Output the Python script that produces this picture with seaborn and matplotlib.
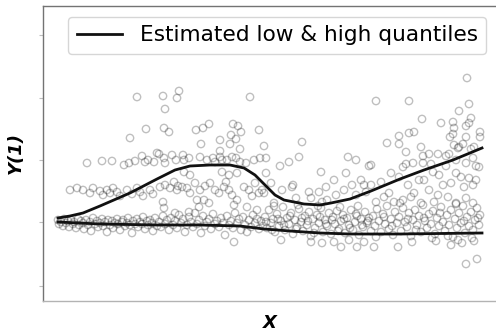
import matplotlib
matplotlib.use("Agg")
import matplotlib.pyplot as plt
import numpy as np
import pandas as pd
import seaborn as sns

# ---- estimated quantile curves ----
curve_x = [1.5, 5.7, 11.4, 15.7, 19.7, 22.1, 24.7, 27.7, 30.7, 35.7, 39.7, 43.9]
low_q = [0.0, -0.2, -0.3, -0.3, -0.4, -0.7, -0.9, -1.1, -1.2, -1.2, -1.15, -1.1]

high_x = [1.5, 2.7, 4.0, 5.7, 8.7, 11.4, 13.2, 14.7, 16.7, 18.7, 20.1, 21.2,
          22.1, 23.2, 24.1, 26.1, 27.7, 28.8, 30.7, 32.8, 35.7, 38.1, 41.0, 43.9]
high_q = [0.4, 0.6, 0.9, 1.6, 2.9, 4.3, 5.2, 5.6, 5.7, 5.7, 5.4, 4.7,
          3.8, 2.7, 2.2, 1.8, 1.7, 1.9, 2.3, 3.1, 4.3, 5.2, 6.2, 7.4]

# ---- observations ----
# sparse upper points
upper_x = [9.4, 12.0, 13.6, 13.4, 12.2, 20.7, 10.3, 12.1, 12.6, 8.7, 15.3, 16.0, 16.6,
           15.8, 17.7, 19.0, 19.5, 18.8, 19.3, 18.7, 19.8, 19.7, 17.7, 21.6, 22.1,
           25.9, 25.6, 24.6, 23.7, 22.3, 30.5, 31.3, 32.6, 33.3, 36.6, 42.4, 42.6,
           41.6, 37.9, 39.8, 41.0, 41.1, 42.8, 42.3, 42.6, 43.7, 43.7, 42.3, 41.0,
           40.7, 41.6, 42.0, 43.1, 35.6, 35.6, 36.6, 37.1, 34.4, 36.3, 37.8, 38.6,
           38.0, 39.5, 40.3, 40.6, 36.3, 37.0, 36.0, 38.0, 38.8, 40.3, 41.3, 43.0,
           43.3, 42.3, 41.5, 42.8, 41.1, 32.8]
upper_y = [12.5, 12.6, 13.1, 12.4, 11.3, 12.5, 9.3, 9.4, 9.0, 8.4, 9.2, 9.4, 9.8,
           7.8, 8.2, 9.8, 9.6, 8.7, 8.3, 7.8, 9.0, 7.3, 7.1, 9.2, 7.6,
           8.0, 6.5, 6.0, 5.6, 6.4, 6.5, 6.2, 5.6, 12.1, 12.1, 14.4, 11.8,
           11.1, 10.3, 9.9, 10.0, 9.4, 10.4, 9.6, 9.9, 9.0, 8.5, 8.5, 8.8,
           8.5, 7.5, 7.8, 7.5, 8.6, 7.8, 8.9, 9.0, 7.9, 7.0, 7.5, 6.8,
           6.6, 6.8, 6.6, 6.8, 5.8, 5.9, 5.5, 5.9, 5.8, 5.6, 6.2, 6.4,
           5.6, 5.9, 7.4, 7.3, 7.7, 5.7]

# group around the upper plateau
plateau_x = [4.4, 5.9, 6.9, 8.1, 9.2, 9.9, 10.2, 11.1, 11.4, 11.6, 12.1, 12.9, 14.0,
             14.1, 14.6, 15.7, 17.0, 17.2, 17.7, 17.9, 18.4, 18.9, 19.7, 21.1, 21.7,
             12.2, 10.5, 13.3, 16.4, 19.3, 20.3, 17.9, 18.6, 19.4, 14.1, 14.7, 8.6]
plateau_y = [5.9, 6.1, 6.1, 5.7, 6.1, 6.6, 6.0, 6.0, 6.9, 6.8, 6.4, 6.7, 6.7,
             6.2, 6.4, 6.5, 6.4, 6.0, 6.5, 6.2, 6.2, 6.5, 6.0, 6.2, 6.4,
             5.9, 6.2, 6.2, 6.2, 6.4, 5.9, 5.0, 4.7, 4.9, 5.0, 4.7, 5.9]

# middle band
mid_x = [2.7, 3.4, 4.0, 4.7, 5.0, 5.7, 6.0, 6.4, 6.7, 7.0, 7.4, 7.7, 8.4, 8.9, 9.4,
         9.7, 10.0, 10.7, 11.0,
         11.7, 12.2, 13.1, 13.4, 13.9, 14.4, 14.7, 15.2, 15.4, 16.1, 16.6, 16.7,
         17.2, 17.6, 18.1, 18.6, 18.9, 19.4, 20.1, 20.6, 21.2, 21.6, 21.9, 12.7,
         13.5, 15.7, 16.2, 18.3, 20.9,
         12.1, 13.2, 14.6, 15.6, 19.1, 20.4, 21.4, 12.0,
         27.8, 29.1, 30.9, 31.8, 32.1, 22.8, 23.9, 24.9, 26.6, 27.6, 28.3, 29.3,
         30.1, 31.3, 32.3, 22.1, 23.1, 25.3, 26.8, 27.9, 28.4, 22.3, 30.3, 25.0,
         32.8, 33.8, 34.8, 35.6, 36.5, 37.1, 38.1, 38.6, 39.6, 40.0, 40.8, 41.3,
         41.8, 42.1, 42.6, 43.0, 39.5, 40.5, 41.3, 42.3, 43.0, 39.1, 37.8, 36.8,
         36.0, 35.1, 34.1, 33.3, 39.0, 43.6, 43.3, 37.6, 34.6]
mid_y = [3.2, 3.4, 3.2, 2.9, 3.4, 3.1, 2.7, 3.2, 2.9, 3.4, 3.0, 2.6, 3.2, 2.8, 3.4,
         3.0, 2.6, 3.2, 2.8,
         3.5, 3.7, 4.0, 3.2, 3.5, 3.4, 2.9, 3.9, 2.2, 2.2, 1.9, 3.9,
         3.2, 2.9, 3.5, 3.2, 2.7, 2.2, 3.5, 3.2, 3.9, 2.9, 3.2, 3.4,
         3.6, 3.2, 3.6, 4.0, 2.6,
         1.4, 0.9, 1.0, 1.5, 1.7, 1.5, 1.2, 2.0,
         5.0, 4.2, 3.7, 4.2, 3.7, 3.9, 3.2, 3.5, 3.0, 3.0, 3.5, 2.7,
         3.2, 2.7, 3.0, 2.9, 1.9, 2.4, 2.4, 2.0, 2.2, 4.9, 4.9, 3.7,
         3.7, 4.0, 4.9, 4.5, 3.7, 2.9, 4.2, 3.2, 4.7, 3.7, 3.9, 4.9,
         4.5, 3.5, 4.4, 3.7, 2.7, 2.5, 1.9, 2.4, 1.9, 2.0, 1.9, 2.5,
         2.2, 2.0, 2.5, 2.0, 5.0, 5.5, 4.2, 4.2, 2.9]

# dense lower band
low_x = [1.5, 1.6, 1.8, 2.0, 2.1, 2.3, 2.5, 2.6, 2.8, 3.0, 3.1, 3.3, 3.5, 3.6, 3.8,
         4.0, 4.1, 4.3, 4.5, 4.7, 4.8, 5.0, 5.2, 5.4, 5.5, 5.7, 5.9, 6.0, 6.2, 6.4,
         6.5, 6.7, 6.9, 7.0, 7.2, 7.4, 7.5, 7.7, 7.9, 8.0, 8.2, 8.4, 8.5, 8.7, 8.9,
         9.0, 9.2, 9.4, 9.5, 9.7, 9.9, 10.0, 10.2, 10.4, 10.5, 10.7, 10.9, 11.0,
         11.2, 11.4,
         11.6, 11.8, 12.0, 12.2, 12.4, 12.6, 12.8, 13.0, 13.2, 13.4, 13.6, 13.8,
         14.0, 14.2, 14.4, 14.6, 14.8, 15.0, 15.2, 15.4, 15.6, 15.8, 16.0, 16.2,
         16.4, 16.6, 16.8, 17.0, 17.2, 17.4, 17.6, 17.8, 18.0, 18.2, 18.4, 18.6,
         18.8, 19.0, 19.1, 19.2, 19.4, 19.6, 19.8, 20.0, 20.2, 20.4, 20.6, 20.8,
         21.0, 21.2, 21.4, 21.6, 21.8, 22.0]
low_y = [0.2, -0.2, 0.0, -0.4, 0.3, -0.1, 0.1, -0.5, 0.2, -0.2, 0.0, -0.6, 0.3, -0.3, 0.1,
         -0.1, -0.7, 0.2, -0.3, 0.0, -0.9, 0.4, -0.2, 0.1, -0.5, -0.1, 0.3, -0.4, 0.0, -1.0,
         0.2, -0.3, 0.1, -0.6, -0.1, 0.3, -0.2, -0.8, 0.0, 0.2, -0.4, -0.1, 0.4, -0.3, -1.1,
         0.1, -0.2, 0.3, -0.5, 0.0, -0.2, 0.5, -0.7, 0.1, -0.3, 0.2, -0.1, -0.9,
         0.4, -0.4,
         0.0, -0.5, 0.6, -0.2, 0.2, -0.8, 0.4, -0.3, 0.1, -0.6, 0.7, -0.1,
         0.3, -1.0, -0.3, 0.5, 0.0, -0.5, 0.9, -0.2, 0.2, -1.1, 0.6, -0.4,
         0.0, 0.3, -0.7, 0.8, -0.2, 0.1, -0.5, 0.4, -0.1, -1.3, 0.6, -0.3,
         0.1, -0.6, -2.0, 0.9, -0.1, 0.3, -0.8, 0.5, -0.3, -1.0, 0.2, -0.5,
         0.7, -0.1, 0.3, -0.7, 0.1, -0.4]

right_x = [23.8, 26.8, 27.9, 29.1, 30.6, 31.4, 32.1, 29.8,
           22.2, 22.4, 22.6, 22.8, 23.0, 23.2, 23.4, 23.6, 23.8, 24.0, 24.2, 24.4,
           24.6, 24.8, 25.0, 25.2, 25.4, 25.6, 25.8, 26.0, 26.2, 26.4, 26.6, 26.8,
           27.0, 27.2, 27.4, 27.6, 27.8, 28.0, 28.2, 28.4, 28.6, 28.8, 29.0, 29.2,
           29.4, 29.6, 29.8, 30.0, 30.2, 30.4, 30.6, 30.8, 31.0, 31.2, 31.4, 31.6,
           31.8, 32.0, 32.2, 32.4, 32.6, 32.8,
           22.3, 22.9, 23.5, 24.1, 24.7, 25.3, 25.9, 26.5, 27.1, 27.7, 28.3, 28.9,
           29.5, 30.1, 30.7, 31.3, 31.9, 32.5, 23.1, 25.5, 27.5, 29.7, 31.5,
           33.1, 35.5, 40.8, 41.5, 42.3, 43.4,
           33.0, 33.2, 33.4, 33.6, 33.8, 34.0, 34.2, 34.4, 34.6, 34.8, 35.0, 35.2,
           35.4, 35.6, 35.8, 36.0, 36.2, 36.4, 36.6, 36.8, 37.0, 37.2, 37.4, 37.6,
           37.8, 38.0, 38.2, 38.4, 38.6, 38.8, 39.0, 39.2, 39.4, 39.6, 39.8, 40.0,
           40.2, 40.4, 40.6, 40.8, 41.0, 41.2, 41.4, 41.6, 41.8, 42.0, 42.2, 42.4,
           42.6, 42.8, 43.0, 43.2, 43.4, 43.6, 43.7,
           33.3, 34.1, 34.9, 35.7, 36.5, 37.3, 38.1, 38.9, 39.7, 40.5, 41.3, 42.1,
           42.9, 43.5, 36.9, 39.3, 41.9, 43.1]
right_y = [-1.8, -2.0, -2.1, -2.0, -1.8, -2.5, -2.0, -2.5,
           0.5, -0.6, 1.2, -0.1, 0.3, -1.0, 0.8, -0.4, 0.1, 1.5, -0.8, 0.4,
           -0.2, 0.9, -1.2, 0.2, -0.5, 1.3, 0.0, -0.9, 0.6, -0.3, 1.0, -1.4,
           0.3, -0.6, 0.7, -0.1, 1.4, -1.0, 0.2, -0.4, 0.9, -1.2, 0.5, -0.2,
           1.1, -0.7, 0.1, 0.7, -1.1, 0.4, -0.3, 1.2, -0.8, 0.0, 0.6, -1.3,
           0.3, -0.5, 1.0, -0.1, 0.4, -0.9,
           0.0, -0.8, 0.3, -0.3, 0.6, -0.7, 0.4, 0.1, -1.1, 0.5, -0.2, 0.2,
           -0.9, 0.3, -0.6, 0.8, -0.3, 0.1, 1.6, 1.7, 1.6, 1.5, 1.6,
           -2.5, -2.5, -2.3, -1.8, -4.2, -3.7,
           0.6, -0.4, 1.3, 0.1, -1.0, 0.8, -0.2, 1.6, -0.7, 0.3, -1.3, 1.0,
           -0.1, 0.5, -0.9, 1.4, 0.0, -0.5, 0.9, -1.4, 0.2, 1.2, -0.3, 0.6,
           -1.0, 1.7, 0.1, -0.6, 0.8, -0.2, 1.1, -1.2, 0.4, -0.4, 1.5, 0.0,
           -0.9, 0.7, -0.3, 1.2, -1.5, 0.3, -0.6, 0.9, -0.1, 1.6, -1.1, 0.5,
           -0.4, 1.0, -0.8, 0.2, 1.4, -0.3, 0.7,
           -1.5, 0.5, -0.4, 1.9, 0.3, -0.8, 0.4, -1.6, 0.9, -1.4, 1.8, 0.1,
           -1.6, 0.4, -2.0, -1.9, -2.1, -1.9]

y_ticks = [-6.4, 0.0, 6.2, 12.4, 18.7]

points = pd.DataFrame({
    "X": upper_x + plateau_x + mid_x + low_x + right_x,
    "Y": upper_y + plateau_y + mid_y + low_y + right_y,
})

fig = plt.figure(figsize=(4.96, 3.30), dpi=100)
ax = fig.add_axes([43 / 496, 29 / 330, 454 / 496, 295 / 330])

sns.scatterplot(data=points, x="X", y="Y", ax=ax, marker="o", s=28,
                facecolor="none", edgecolor=(0, 0, 0, 0.25), linewidth=1.0,
                legend=False)
sns.lineplot(x=high_x, y=high_q, ax=ax, color="#111111", linewidth=2.0,
             label="Estimated low & high quantiles", sort=False)
sns.lineplot(x=curve_x, y=low_q, ax=ax, color="#111111", linewidth=2.0, sort=False)

ax.set_xlim(0, 45.4)
ax.set_ylim(-7.9, 21.6)
ax.set_xticks([])
ax.set_yticks(y_ticks)
ax.set_yticklabels([])
ax.tick_params(axis="y", length=3, width=0.8, color="0.75", direction="out", pad=0)

for side in ["left", "bottom", "top", "right"]:
    ax.spines[side].set_color("0.45")
    ax.spines[side].set_linewidth(1.0)
ax.spines["bottom"].set_color("0.7")
ax.set_facecolor("white")

ax.set_xlabel("X", fontsize=13, fontweight="bold", fontstyle="italic", labelpad=9)
ax.set_ylabel("Y(1)", fontsize=13, fontweight="bold", fontstyle="italic", labelpad=10)

leg = ax.legend(loc="upper right", fontsize=15.6, frameon=True, handlelength=2.1)
leg.get_frame().set_edgecolor("0.8")

fig.savefig("out.png", dpi=100)
